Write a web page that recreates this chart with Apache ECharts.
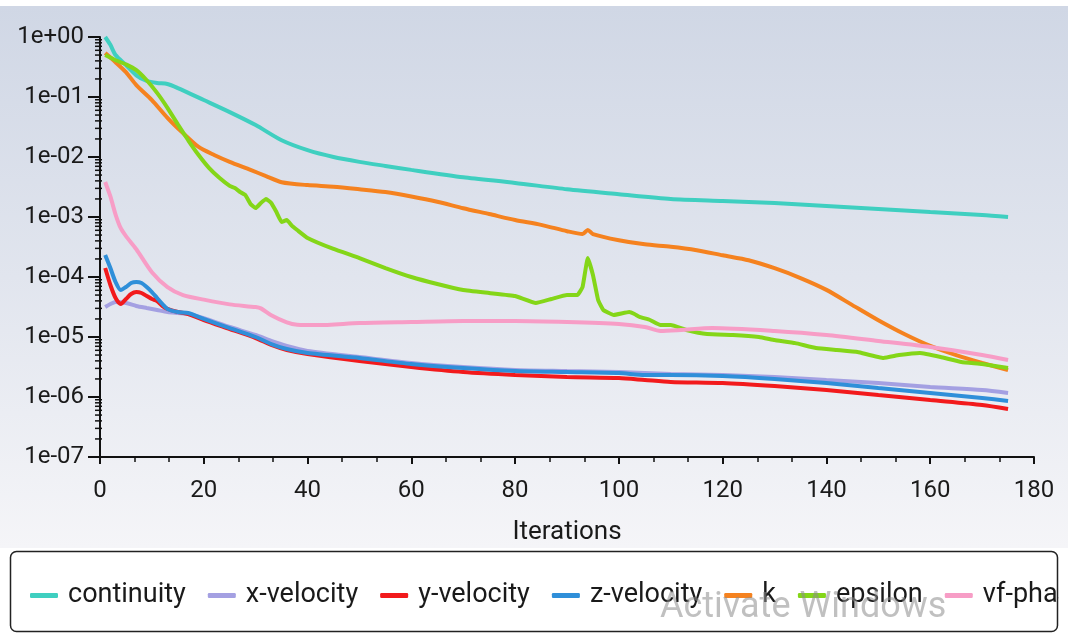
<!DOCTYPE html>
<html><head><meta charset="utf-8">
<script src="https://cdn.jsdelivr.net/npm/echarts@6/dist/echarts.min.js"></script>
<style>html,body{margin:0;padding:0;background:#fff}#c{width:1068px;height:634px}</style>
</head><body><div id="c"></div>
<script>
// ---- data (iteration, residual) ----
const contIt  = [1,2,3,5,7,9,11,13,15,20,25,30,35,40,45,50,55,60,70,80,90,100,110,120,130,140,150,160,170,175];
const contVal = [1.0,0.74,0.5,0.34,0.23,0.185,0.171,0.165,0.141,0.089,0.056,0.034,0.019,0.013,0.010,0.0083,0.0071,0.0061,0.0046,0.0037,0.0029,0.0024,0.0020,0.00185,0.00171,0.00153,0.00136,0.00121,0.00108,0.001];

const xvIt  = [1,2,3,5,7,9,11,13,15,17,20,25,30,33,36,40,50,60,70,80,90,100,110,120,130,140,150,160,170,175];
const xvVal = [3.16e-5,3.55e-5,3.83e-5,3.69e-5,3.29e-5,3.04e-5,2.82e-5,2.61e-5,2.51e-5,2.42e-5,2.07e-5,1.47e-5,1.08e-5,8.58e-6,7.08e-6,5.85e-6,4.64e-6,3.69e-6,3.16e-6,2.82e-6,2.71e-6,2.61e-6,2.42e-6,2.33e-6,2.15e-6,1.92e-6,1.71e-6,1.47e-6,1.31e-6,1.17e-6];

const yvIt  = [1,2,3,4,5,6,7,8,9,10,11,12,13,15,17,20,25,30,33,36,40,50,60,70,80,90,100,105,110,120,130,140,150,160,170,175];
const yvVal = [1.41e-4,7.36e-5,4.47e-5,3.55e-5,4.30e-5,5.21e-5,5.62e-5,5.41e-5,4.82e-5,4.30e-5,3.98e-5,3.29e-5,2.93e-5,2.61e-5,2.42e-5,1.92e-5,1.36e-5,9.62e-6,7.36e-6,6.07e-6,5.21e-6,3.98e-6,3.16e-6,2.61e-6,2.33e-6,2.15e-6,2.07e-6,1.92e-6,1.78e-6,1.71e-6,1.52e-6,1.31e-6,1.08e-6,8.9e-7,7.36e-7,6.31e-7];

const zvIt  = [1,2,3,4,5,6,7,8,9,10,11,12,13,15,17,20,25,30,33,36,40,50,60,70,80,90,100,105,110,120,130,140,150,160,170,175];
const zvVal = [2.33e-4,1.41e-4,8.25e-5,6.07e-5,6.81e-5,7.94e-5,8.25e-5,7.94e-5,6.81e-5,5.62e-5,4.47e-5,3.55e-5,2.93e-5,2.61e-5,2.51e-5,2.0e-5,1.41e-5,1.0e-5,7.64e-6,6.31e-6,5.41e-6,4.47e-6,3.55e-6,3.04e-6,2.71e-6,2.61e-6,2.51e-6,2.33e-6,2.33e-6,2.24e-6,2.0e-6,1.71e-6,1.41e-6,1.17e-6,9.62e-7,8.57e-7];

const kIt  = [1,3,5,7,10,13,16,19,22,25,29,32,35,40,45,50,55,60,65,70,75,80,85,90,93,94,95,100,105,110,115,120,125,130,135,140,145,150,155,160,165,170,175];
const kVal = [0.54,0.38,0.26,0.158,0.089,0.045,0.025,0.0147,0.0108,0.0083,0.0061,0.0048,0.0038,0.0034,0.0032,0.0029,0.0026,0.0022,0.0018,0.0014,0.00112,0.00089,0.00074,0.00058,0.00052,0.00061,0.00052,0.00041,0.00035,0.00032,0.00028,0.00023,0.00019,0.00014,0.000096,0.000061,0.000034,0.000019,0.0000112,0.0000071,0.0000050,0.0000037,0.0000028];

const epsIt  = [1,3,5,7,9,11,13,15,17,19,21,23,25,26,27,28,29,30,31,32,33,34,35,36,37,38,40,45,50,55,60,65,70,75,80,84,87,90,92,93,94,95,96,97,99,102,103,104,106,108,110,113,117,122,127,130,134,138,142,146,151,154,158,162,166,170,175];
const epsVal = [0.5,0.41,0.35,0.28,0.19,0.117,0.066,0.035,0.019,0.0108,0.0066,0.0045,0.0033,3.04e-3,2.61e-3,2.33e-3,1.65e-3,1.41e-3,1.71e-3,2.0e-3,1.71e-3,1.21e-3,8.25e-4,8.9e-4,7.1e-4,6.07e-4,4.47e-4,2.93e-4,2.07e-4,1.41e-4,1.0e-4,7.64e-5,6.07e-5,5.41e-5,4.82e-5,3.69e-5,4.30e-5,5.0e-5,5.0e-5,6.81e-5,2.07e-4,1.08e-4,4.14e-5,2.82e-5,2.33e-5,2.61e-5,2.42e-5,2.16e-5,1.92e-5,1.58e-5,1.58e-5,1.31e-5,1.12e-5,1.08e-5,1.0e-5,8.9e-6,7.9e-6,6.56e-6,6.07e-6,5.62e-6,4.47e-6,5.0e-6,5.41e-6,4.64e-6,3.83e-6,3.55e-6,3.04e-6];

const vfIt  = [1,2,3,4,5,7,10,13,16,20,25,30,31,33,36,38,42,50,60,70,80,90,100,105,108,112,118,130,140,150,160,170,175];
const vfVal = [3.83e-3,2.2e-3,1.1e-3,6.5e-4,4.8e-4,2.9e-4,1.2e-4,6.8e-5,5.0e-5,4.2e-5,3.5e-5,3.15e-5,3.0e-5,2.3e-5,1.75e-5,1.6e-5,1.58e-5,1.71e-5,1.78e-5,1.85e-5,1.85e-5,1.78e-5,1.65e-5,1.47e-5,1.26e-5,1.31e-5,1.41e-5,1.26e-5,1.08e-5,8.58e-6,6.81e-6,5.0e-6,4.14e-6];

const seriesNames = ['continuity','x-velocity','y-velocity','z-velocity','k','epsilon','vf-phase-2'];
const seriesColors = ['#3fcfc0','#a4a0e2','#f21a1c','#2f8fd9','#f5821f','#84d618','#f79dc6'];
const xTicks = [0,20,40,60,80,100,120,140,160,180];

const pair = (xs, ys) => xs.map((x, i) => [x, ys[i]]);
const seriesData = [pair(contIt,contVal), pair(xvIt,xvVal), pair(yvIt,yvVal), pair(zvIt,zvVal), pair(kIt,kVal), pair(epsIt,epsVal), pair(vfIt,vfVal)];

// log minor tick positions (axis decoration)
const minorY = [];
for (let e = -7; e < 0; e++) for (let m = 2; m <= 9; m++) minorY.push([0, m * Math.pow(10, e)]);

const FONT = 'Roboto';
const chart = echarts.init(document.getElementById('c'), null, {renderer: 'canvas'});
const lineSeries = seriesNames.map((n, i) => ({
  name: n, type: 'line', data: seriesData[i], showSymbol: false, symbol: 'none',
  smooth: n === 'epsilon' ? 0.1 : 0.25,
  lineStyle: {color: seriesColors[i], width: 4}, itemStyle: {color: seriesColors[i]},
  z: 3 + i
}));

chart.setOption({
  animation: false,
  backgroundColor: '#ffffff',
  graphic: [
    {type: 'rect', z: -10, silent: true, shape: {x: 0, y: 6, width: 1068, height: 542},
     style: {fill: new echarts.graphic.LinearGradient(0, 0, 0, 1, [
       {offset: 0, color: '#d0d7e5'}, {offset: 0.5, color: '#e1e5ee'}, {offset: 1, color: '#f5f5f8'}])}},
    {type: 'rect', z: 1, silent: true, shape: {x: 10.5, y: 551.5, width: 1047, height: 80, r: 6},
     style: {fill: 'none', stroke: '#222', lineWidth: 1.5}},
    {type: 'text', z: 50, silent: true, left: 660, top: 590,
     style: {text: 'Activate Windows', fontSize: 36, fontFamily: FONT, fill: 'rgba(140,140,140,0.55)'}},
    {type: 'rect', z: 100, silent: true, shape: {x: 1059, y: 553, width: 9, height: 77}, style: {fill: '#ffffff'}}
  ],
  grid: {left: 100, top: 37, right: 34, bottom: 177, containLabel: false},
  legend: {
    left: 25, top: 577, width: 1600, itemWidth: 28, itemHeight: 5, itemGap: 22, icon: 'roundRect',
    data: seriesNames,
    textStyle: {fontSize: 27, fontFamily: FONT, color: '#1a1a1a', padding: [0, 0, 0, 5]}
  },
  xAxis: {
    type: 'value', min: 0, max: 180, interval: 20,
    name: 'Iterations', nameLocation: 'middle', nameGap: 62,
    nameTextStyle: {fontSize: 26, fontFamily: FONT, color: '#1a1a1a'},
    axisLine: {lineStyle: {color: '#111', width: 2}},
    axisTick: {show: true, length: 7, lineStyle: {color: '#111', width: 2}},
    minorTick: {show: true, splitNumber: 3, length: 5, lineStyle: {color: '#111', width: 1.5}},
    axisLabel: {fontSize: 24, fontFamily: FONT, color: '#1a1a1a', margin: 22,
      formatter: v => xTicks.includes(v) ? String(v) : ''},
    splitLine: {show: false}
  },
  yAxis: {
    type: 'log', logBase: 10, min: 1e-7, max: 1, interval: 1,
    axisLine: {show: true, lineStyle: {color: '#111', width: 2}},
    axisTick: {show: true, length: 12, lineStyle: {color: '#111', width: 2}},
    axisLabel: {fontSize: 24, fontFamily: FONT, color: '#1a1a1a', margin: 16,
      formatter: v => {
        const e = Math.round(Math.log10(v));
        return '1e' + (e >= 0 ? '+' : '-') + String(Math.abs(e)).padStart(2, '0');
      }},
    splitLine: {show: false}
  },
  series: lineSeries.concat([{
    type: 'custom', silent: true, clip: false, data: minorY, z: 2,
    renderItem: (params, api) => {
      const p = api.coord([api.value(0), api.value(1)]);
      return {type: 'line', shape: {x1: p[0] - 5, y1: p[1], x2: p[0] + 2, y2: p[1]},
              style: {stroke: '#111', lineWidth: 1.5}};
    }
  }])
});
</script>
</body></html>
